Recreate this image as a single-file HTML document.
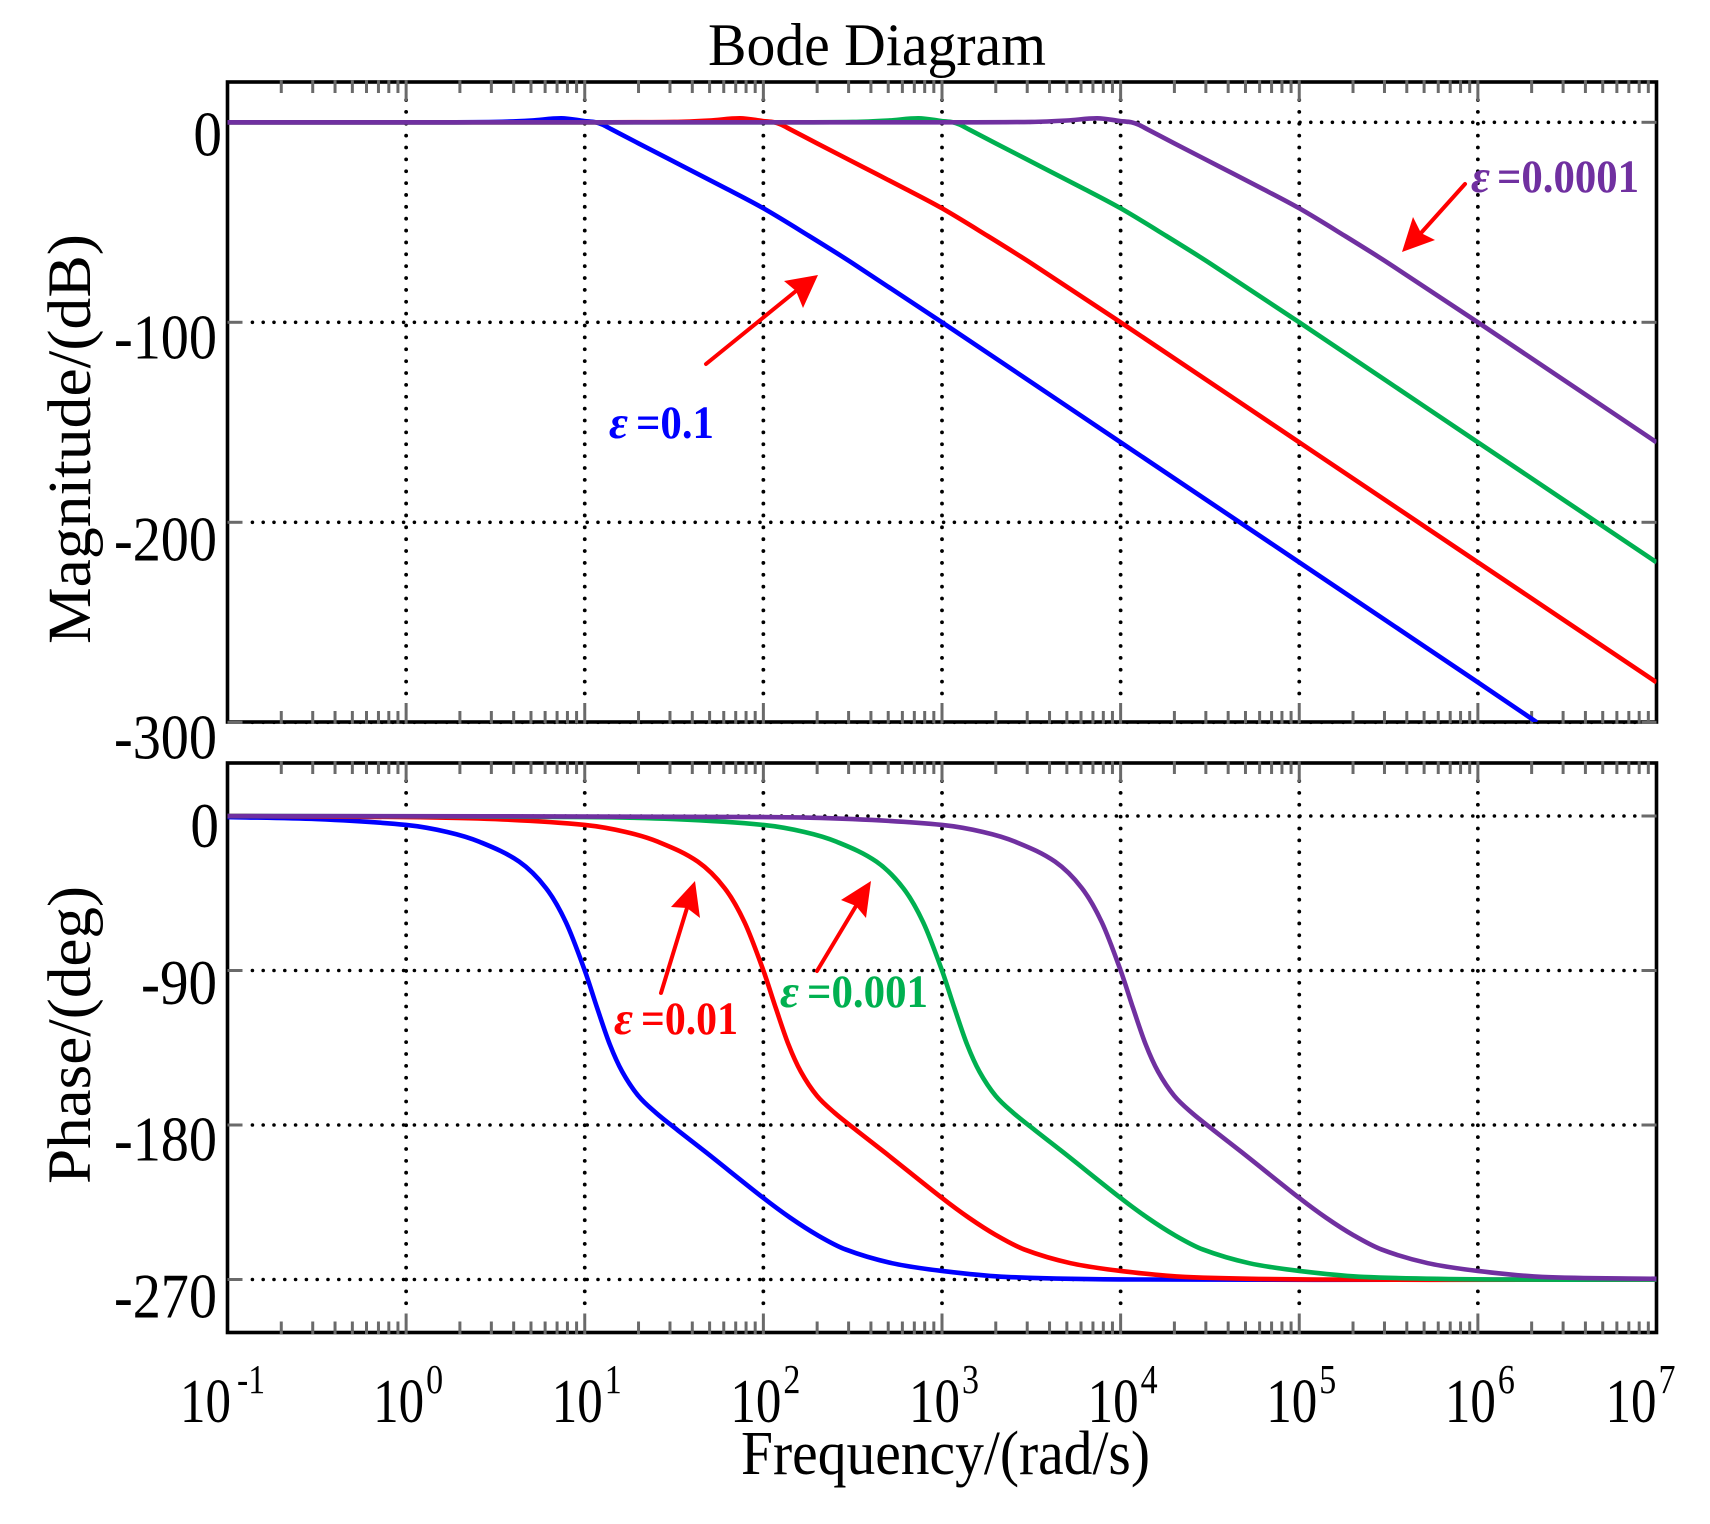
<!DOCTYPE html>
<html lang="en">
<head>
<meta charset="utf-8">
<title>Bode Diagram</title>
<style>
html,body{margin:0;padding:0;background:#fff;}
svg{display:block;}
text{font-family:"Liberation Serif",serif;fill:#000;}
.note{font-weight:bold;font-size:47px;}
.eps{font-style:italic;}
</style>
</head>
<body>
<svg id="chart" xmlns="http://www.w3.org/2000/svg" width="1710" height="1524" viewBox="0 0 1710 1524">
  <defs>
    <clipPath id="clip-mag"><rect x="227.5" y="82" width="1429" height="640"/></clipPath>
    <clipPath id="clip-phase"><rect x="225" y="763" width="1434" height="570"/></clipPath>
  </defs>
  <rect width="1710" height="1524" fill="#fff"/>
  <g id="grid"></g>
  <rect x="227.5" y="82" width="1429" height="640" fill="none" stroke="#000" stroke-width="3.6"/>
  <rect x="227.5" y="763" width="1429" height="569.5" fill="none" stroke="#000" stroke-width="3.6"/>
  <g id="ticks"></g>
  <g id="series-mag" clip-path="url(#clip-mag)"></g>
  <g id="series-phase" clip-path="url(#clip-phase)"></g>
  <g id="labels"></g>

  <text x="708" y="65" font-size="60" textLength="338" lengthAdjust="spacingAndGlyphs">Bode Diagram</text>
  <text transform="translate(90,644) rotate(-90)" font-size="61" textLength="410" lengthAdjust="spacingAndGlyphs">Magnitude/(dB)</text>
  <text transform="translate(90,1184) rotate(-90)" font-size="61" textLength="298" lengthAdjust="spacingAndGlyphs">Phase/(deg)</text>
  <text x="741" y="1474" font-size="62" textLength="409" lengthAdjust="spacingAndGlyphs">Frequency/(rad/s)</text>

  <g>
    <text class="note eps" style="fill:#0000ff" x="609" y="438" textLength="19" lengthAdjust="spacingAndGlyphs">ε</text>
    <text class="note" style="fill:#0000ff" x="636" y="438" textLength="78" lengthAdjust="spacingAndGlyphs">=0.1</text>
  </g>
  <g>
    <text class="note eps" style="fill:#ff0000" x="614" y="1034" textLength="19" lengthAdjust="spacingAndGlyphs">ε</text>
    <text class="note" style="fill:#ff0000" x="641" y="1034" textLength="97" lengthAdjust="spacingAndGlyphs">=0.01</text>
  </g>
  <g>
    <text class="note eps" style="fill:#00b050" x="780" y="1007" textLength="19" lengthAdjust="spacingAndGlyphs">ε</text>
    <text class="note" style="fill:#00b050" x="807" y="1007" textLength="121" lengthAdjust="spacingAndGlyphs">=0.001</text>
  </g>
  <g>
    <text class="note eps" style="fill:#7030a0" x="1471" y="192" textLength="19" lengthAdjust="spacingAndGlyphs">ε</text>
    <text class="note" style="fill:#7030a0" x="1497" y="192" textLength="142" lengthAdjust="spacingAndGlyphs">=0.0001</text>
  </g>

  <g>
    <line x1="706" y1="364" x2="796" y2="291" stroke="#ff0000" stroke-width="4" stroke-linecap="round"/>
    <polygon points="818,275 784,281 796,291 803,308" fill="#ff0000"/>
  </g>
  <g>
    <line x1="1465" y1="184" x2="1421" y2="233" stroke="#ff0000" stroke-width="4" stroke-linecap="round"/>
    <polygon points="1402,252 1413,217 1421,233 1435,240" fill="#ff0000"/>
  </g>
  <g>
    <line x1="661" y1="993" x2="687" y2="908" stroke="#ff0000" stroke-width="4" stroke-linecap="round"/>
    <polygon points="695,881 671,907 687,908 700,918" fill="#ff0000"/>
  </g>
  <g>
    <line x1="817" y1="971" x2="856" y2="906" stroke="#ff0000" stroke-width="4" stroke-linecap="round"/>
    <polygon points="871,881 841,900 856,906 866,918" fill="#ff0000"/>
  </g>
</svg>
<script>
// ---- chart data (frequencies are log10 of rad/s) ----
var decadeTicks = [-1, 0, 1, 2, 3, 4, 5, 6, 7];
var magnitudeTicks = [0, -100, -200, -300];
var phaseTicks = [0, -90, -180, -270];

var blueMagFreq  = [-1, 0, 0.5, 0.7, 0.87, 1, 1.06, 1.1, 1.15, 1.3, 1.55, 1.8, 2, 2.25, 2.5, 3, 4, 5, 6, 6.33];
var blueMag      = [0, 0, 0.2, 0.9, 2, 0.6, 0, -1.2, -3.5, -10.5, -22, -33.5, -43, -56.5, -70.5, -100, -160, -220, -280, -300];
var redMagFreq   = [-1, 0, 1, 1.5, 1.7, 1.87, 2, 2.06, 2.1, 2.15, 2.3, 2.55, 2.8, 3, 3.25, 3.5, 4, 5, 6, 7];
var redMag       = [0, 0, 0, 0.2, 0.9, 2, 0.6, 0, -1.2, -3.5, -10.5, -22, -33.5, -43, -56.5, -70.5, -100, -160, -220, -280];
var greenMagFreq = [-1, 1, 2, 2.5, 2.7, 2.87, 3, 3.06, 3.1, 3.15, 3.3, 3.55, 3.8, 4, 4.25, 4.5, 5, 6, 7];
var greenMag     = [0, 0, 0, 0.2, 0.9, 2, 0.6, 0, -1.2, -3.5, -10.5, -22, -33.5, -43, -56.5, -70.5, -100, -160, -220];
var purpleMagFreq = [-1, 2, 3, 3.5, 3.7, 3.87, 4, 4.06, 4.1, 4.15, 4.3, 4.55, 4.8, 5, 5.25, 5.5, 6, 7];
var purpleMag     = [0, 0, 0, 0.2, 0.9, 2, 0.6, 0, -1.2, -3.5, -10.5, -22, -33.5, -43, -56.5, -70.5, -100, -160];

var bluePhaseFreq  = [-1, -0.5, 0, 0.23, 0.41, 0.633, 0.783, 0.895, 1, 1.07, 1.14, 1.21, 1.3, 1.4, 1.52, 1.68, 2, 2.15, 2.3, 2.46, 2.72, 3, 3.36, 4.1, 7];
var bluePhase      = [-0.6, -1.8, -5.2, -9.3, -15, -26.6, -42, -62, -90, -112, -133, -149, -163, -173, -183, -196, -222.5, -234, -244, -252.5, -260.5, -265, -268.5, -270, -270];
var redPhaseFreq   = [-1, 0, 0.5, 1, 1.23, 1.41, 1.633, 1.783, 1.895, 2, 2.07, 2.14, 2.21, 2.3, 2.4, 2.52, 2.68, 3, 3.15, 3.3, 3.46, 3.72, 4, 4.36, 5.1, 7];
var redPhase       = [0, -0.6, -1.8, -5.2, -9.3, -15, -26.6, -42, -62, -90, -112, -133, -149, -163, -173, -183, -196, -222.5, -234, -244, -252.5, -260.5, -265, -268.5, -270, -270];
var greenPhaseFreq = [-1, 1, 1.5, 2, 2.23, 2.41, 2.633, 2.783, 2.895, 3, 3.07, 3.14, 3.21, 3.3, 3.4, 3.52, 3.68, 4, 4.15, 4.3, 4.46, 4.72, 5, 5.36, 6.1, 7];
var greenPhase     = [0, -0.6, -1.8, -5.2, -9.3, -15, -26.6, -42, -62, -90, -112, -133, -149, -163, -173, -183, -196, -222.5, -234, -244, -252.5, -260.5, -265, -268.5, -270, -270];
var purplePhaseFreq = [-1, 2, 2.5, 3, 3.23, 3.41, 3.633, 3.783, 3.895, 4, 4.07, 4.14, 4.21, 4.3, 4.4, 4.52, 4.68, 5, 5.15, 5.3, 5.46, 5.72, 6, 6.36, 7];
var purplePhase     = [0, -0.6, -1.8, -5.2, -9.3, -15, -26.6, -42, -62, -90, -112, -133, -149, -163, -173, -183, -196, -222.5, -234, -244, -252.5, -260.5, -265, -268.5, -269.6];

// ---- axis functions ----
var NS = 'http://www.w3.org/2000/svg';
var LEFT = 227.5, RIGHT = 1656.5;
function xScale(e) { return LEFT + (e + 1) * (RIGHT - LEFT) / 8; }
function yMag(v) { return 122.3 - v * 2; }
function yPhase(v) { return 816 - v * 154.5 / 90; }

function make(tag, attrs, parent) {
  var el = document.createElementNS(NS, tag);
  for (var k in attrs) el.setAttribute(k, attrs[k]);
  parent.appendChild(el);
  return el;
}

function smoothPath(freq, vals, yf) {
  var p = freq.map(function (f, i) { return [xScale(f), yf(vals[i])]; });
  var d = 'M' + p[0][0].toFixed(2) + ' ' + p[0][1].toFixed(2);
  for (var i = 0; i < p.length - 1; i++) {
    var p0 = p[Math.max(i - 1, 0)], p1 = p[i], p2 = p[i + 1], p3 = p[Math.min(i + 2, p.length - 1)];
    var seg = p2[0] - p1[0];
    var m1 = (p2[1] - p0[1]) / ((p2[0] - p0[0]) || 1);
    var m2 = (p3[1] - p1[1]) / ((p3[0] - p1[0]) || 1);
    d += ' C' + (p1[0] + seg / 3).toFixed(2) + ' ' + (p1[1] + m1 * seg / 3).toFixed(2) +
         ' ' + (p2[0] - seg / 3).toFixed(2) + ' ' + (p2[1] - m2 * seg / 3).toFixed(2) +
         ' ' + p2[0].toFixed(2) + ' ' + p2[1].toFixed(2);
  }
  return d;
}

var grid = document.getElementById('grid');
var ticks = document.getElementById('ticks');
var labels = document.getElementById('labels');
var GRAY = '#6a6a6a';
var TICK_W = 3;

// vertical grid + x ticks for both panels
var panels = [[82, 722], [763, 1332.5]];
panels.forEach(function (pn) {
  var top = pn[0], bottom = pn[1];
  decadeTicks.forEach(function (e, idx) {
    var x = xScale(e);
    if (idx > 0 && idx < decadeTicks.length - 1) {
      var gl = make('line', {x1: x, x2: x, y1: top + 18, y2: bottom - 20, stroke: '#000', 'stroke-width': 3.8, 'stroke-linecap': 'round', 'stroke-dasharray': '0 11.87'}, grid);
      
      
      var t1 = make('line', {x1: x, x2: x, y1: top - 1.5, y2: top + 19, stroke: GRAY, 'stroke-width': TICK_W}, ticks);
      
      
      var t2 = make('line', {x1: x, x2: x, y1: bottom + 1.5, y2: bottom - 19, stroke: GRAY, 'stroke-width': TICK_W}, ticks);
      
      
    }
    if (idx < decadeTicks.length - 1) {
      for (var m = 2; m <= 9; m++) {
        var mx = xScale(e + Math.log10(m));
        var a = make('line', {x1: mx, x2: mx, y1: top - 1.5, y2: top + 11, stroke: GRAY, 'stroke-width': TICK_W}, ticks);
        
        
        var b = make('line', {x1: mx, x2: mx, y1: bottom + 1.5, y2: bottom - 11, stroke: GRAY, 'stroke-width': TICK_W}, ticks);
        
        
      }
    }
  });
});

function labelWidth(s) {
  if (s === '0') return 28.6;
  return s.length === 3 ? 76 : 103;
}

// horizontal grid + y ticks + y labels
function yAxis(values, yf, dyf, zeroX, axisName) {
  values.forEach(function (v) {
    var y = yf(v);
    var gl = make('line', {x1: LEFT + 24.9, x2: RIGHT - 16, y1: y, y2: y, stroke: '#000', 'stroke-width': 3.6, 'stroke-linecap': 'round', 'stroke-dasharray': '0 10.8'}, grid);
    
    
    var l = make('line', {x1: LEFT, x2: LEFT + 15, y1: y, y2: y, stroke: GRAY, 'stroke-width': TICK_W}, ticks);
    
    
    var r = make('line', {x1: RIGHT, x2: RIGHT - 15, y1: y, y2: y, stroke: GRAY, 'stroke-width': TICK_W}, ticks);
    
    
    var s = String(v);
    var t = make('text', {x: v === 0 ? zeroX : 217, y: y + dyf(v), 'font-size': 63, 'text-anchor': 'end', textLength: labelWidth(s), lengthAdjust: 'spacingAndGlyphs'}, labels);
    
    
    t.textContent = s;
  });
}
yAxis(magnitudeTicks, yMag, function (v) { return v === 0 ? 33 : (v === -200 ? 38 : 36); }, 222, 'magnitude');
yAxis(phaseTicks, yPhase, function (v) { return 31 - v * 0.026; }, 219, 'phase');

// x labels
decadeTicks.forEach(function (e, idx) {
  var x0 = xScale(e) - (idx === 0 ? 47.5 : (idx === decadeTicks.length - 1 ? 51 : 33));
  var base = make('text', {x: x0, y: 1422, 'font-size': 62, textLength: 51, lengthAdjust: 'spacingAndGlyphs'}, labels);
  
  
  base.textContent = '10';
  var s = String(e);
  var sup = make('text', {x: x0 + (e < 0 ? 57 : 53), y: 1393, 'font-size': 41, textLength: s.length > 1 ? 28 : 17, lengthAdjust: 'spacingAndGlyphs'}, labels);
  
  
  sup.textContent = s;
});

// series
function drawSeries(parentId, freq, vals, yf, color, name) {
  var path = make('path', {d: smoothPath(freq, vals, yf), fill: 'none', stroke: color, 'stroke-width': 4.6, 'stroke-linejoin': 'round', 'stroke-linecap': 'butt'}, document.getElementById(parentId));
  
  
}
drawSeries('series-mag', blueMagFreq, blueMag, yMag, '#0000ff', 'magnitude-line-epsilon-0.1');
drawSeries('series-mag', redMagFreq, redMag, yMag, '#ff0000', 'magnitude-line-epsilon-0.01');
drawSeries('series-mag', greenMagFreq, greenMag, yMag, '#00b050', 'magnitude-line-epsilon-0.001');
drawSeries('series-mag', purpleMagFreq, purpleMag, yMag, '#7030a0', 'magnitude-line-epsilon-0.0001');
drawSeries('series-phase', bluePhaseFreq, bluePhase, yPhase, '#0000ff', 'phase-line-epsilon-0.1');
drawSeries('series-phase', redPhaseFreq, redPhase, yPhase, '#ff0000', 'phase-line-epsilon-0.01');
drawSeries('series-phase', greenPhaseFreq, greenPhase, yPhase, '#00b050', 'phase-line-epsilon-0.001');
drawSeries('series-phase', purplePhaseFreq, purplePhase, yPhase, '#7030a0', 'phase-line-epsilon-0.0001');
</script>
</body>
</html>
